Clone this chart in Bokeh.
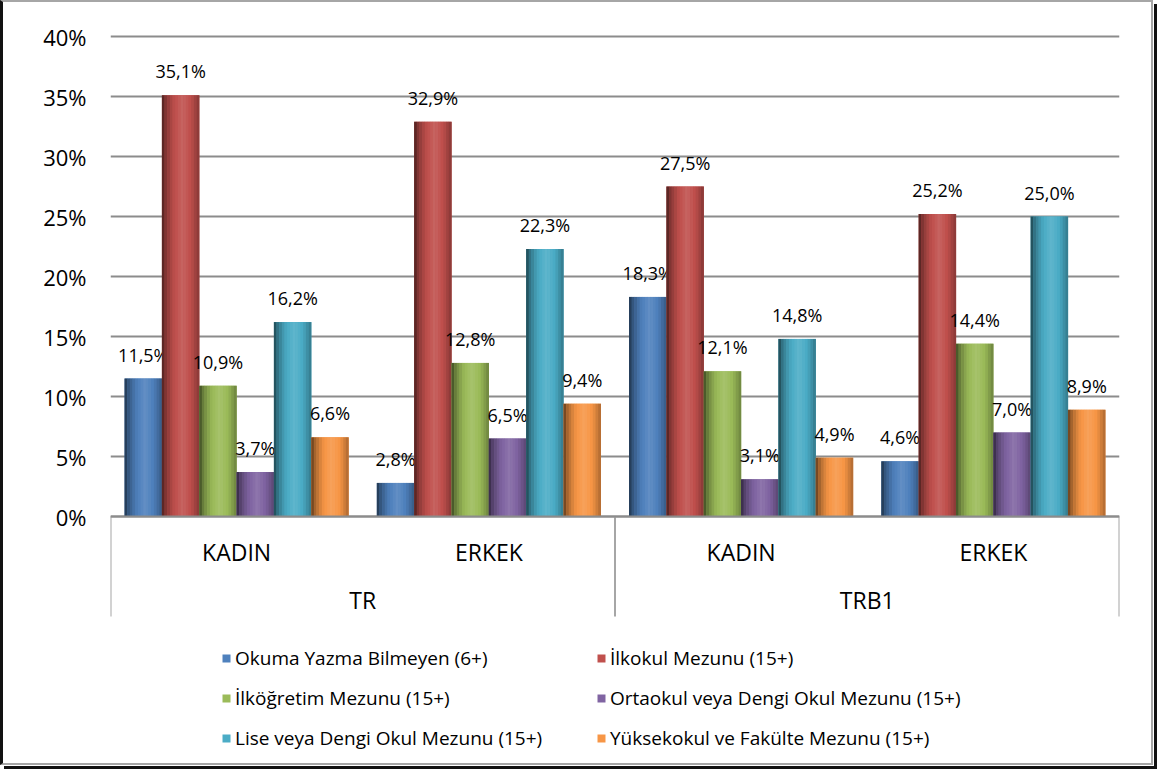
from bokeh.plotting import figure
from bokeh.models import (FactorRange, Range1d, ColumnDataSource, FixedTicker,
                          PrintfTickFormatter, Legend, LegendItem, Span)
from bokeh.transform import dodge
from bokeh.core.properties import value
from bokeh.embed import file_html
from bokeh.resources import INLINE

# ---------------- data ----------------
regions = ["TR", "TR", "TRB1", "TRB1"]
genders = ["KADIN", "ERKEK", "KADIN", "ERKEK"]
series_names = [
    "Okuma Yazma Bilmeyen (6+)",
    "İlkokul Mezunu (15+)",
    "İlköğretim Mezunu (15+)",
    "Ortaokul veya Dengi Okul Mezunu (15+)",
    "Lise veya Dengi Okul Mezunu (15+)",
    "Yüksekokul ve Fakülte Mezunu (15+)",
]
okuma = [11.5, 2.8, 18.3, 4.6]
ilkokul = [35.1, 32.9, 27.5, 25.2]
ilkogretim = [10.9, 12.8, 12.1, 14.4]
ortaokul = [3.7, 6.5, 3.1, 7.0]
lise = [16.2, 22.3, 14.8, 25.0]
yuksek = [6.6, 9.4, 4.9, 8.9]
y_ticks = [0, 5, 10, 15, 20, 25, 30, 35, 40]
colors = ["#4F81BD", "#C0504D", "#9BBB59", "#8064A2", "#4BACC6", "#F79646"]

series_values = [okuma, ilkokul, ilkogretim, ortaokul, lise, yuksek]

FONT = "Open Sans"
PX_PER_UNIT = 12.0

factors = list(zip(regions, genders))

# ---------------- figure ----------------
W, H = 1153, 765
frame_top, frame_bottom = 24, 757
zero_px = 514
y_end = (zero_px - frame_top) / PX_PER_UNIT
y_start = -(frame_bottom - zero_px) / PX_PER_UNIT

p = figure(width=W, height=H, output_backend="svg", toolbar_location=None,
           x_range=FactorRange(factors=factors, factor_padding=0, group_padding=0,
                               range_padding=0),
           y_range=Range1d(y_start, y_end),
           min_border_left=107, min_border_right=37,
           min_border_top=frame_top, min_border_bottom=H - frame_bottom,
           background_fill_color="white", border_fill_color="white",
           outline_line_color=None,
           styles={"border-left": "3px solid #111",
                   "border-top": "2px solid #A6A6A6",
                   "border-right": "2px solid #A6A6A6",
                   "border-bottom": "2px solid #A6A6A6",
                   "box-shadow": "1px 1px 0 0 #fff, 4px 4px 0 0 #111"})

p.xaxis.visible = False
p.xgrid.grid_line_color = None

ticker = FixedTicker(ticks=y_ticks)
p.yaxis.ticker = ticker
p.yaxis.formatter = PrintfTickFormatter(format="%d%%")
p.yaxis.axis_line_color = None
p.yaxis.major_tick_line_color = None
p.yaxis.minor_tick_line_color = None
p.yaxis.major_tick_out = 0
p.yaxis.major_label_standoff = 24
p.yaxis.major_label_text_font = FONT
p.yaxis.major_label_text_font_size = "22px"
p.yaxis.major_label_text_color = "#000000"
p.ygrid.ticker = ticker
p.ygrid.grid_line_color = "#8C8C8C"
p.ygrid.grid_line_width = 2

# ---------------- bars ----------------
src = ColumnDataSource(dict(cat=factors))
bar_w = 0.148
n_series = len(series_values)


def shade(hex_color, f):
    r, g, b = (int(hex_color[i:i + 2], 16) for i in (1, 3, 5))
    if f <= 1:
        r, g, b = r * f, g * f, b * f
    else:
        k = f - 1
        r, g, b = r + (255 - r) * k, g + (255 - g) * k, b + (255 - b) * k
    return "#%02x%02x%02x" % (int(min(255, r)), int(min(255, g)), int(min(255, b)))


profile = [(0.0, 0.40), (0.12, 0.70), (0.3, 0.95), (0.55, 1.12), (0.78, 0.98), (1.0, 0.7)]


def prof(t):
    for (t0, f0), (t1, f1) in zip(profile[:-1], profile[1:]):
        if t0 <= t <= t1:
            return f0 + (f1 - f0) * (t - t0) / (t1 - t0)
    return profile[-1][1]


n_strips = 14
legend_items = []
for i, (name, vals, col) in enumerate(zip(series_names, series_values, colors)):
    key = f"s{i}"
    src.data[key] = vals
    src.data[key + "_lbl"] = [f"{v:.1f}".replace(".", ",") + "%" for v in vals]
    off = (i - (n_series - 1) / 2) * bar_w
    base = p.vbar(x=dodge("cat", off, range=p.x_range), top=key, bottom=0,
                  width=bar_w, source=src, fill_color=col, line_color=None)
    sw = bar_w / n_strips
    for k in range(n_strips):
        t = (k + 0.5) / n_strips
        p.vbar(x=dodge("cat", off - bar_w / 2 + sw * (k + 0.5), range=p.x_range),
               top=key, bottom=0, width=sw * 1.08, source=src,
               fill_color=shade(col, prof(t)), line_color=None)
    p.text(x=dodge("cat", off, range=p.x_range), y=key, text=key + "_lbl", source=src,
           text_align="center", text_baseline="middle", y_offset=-24,
           text_font=value(FONT), text_font_size="18px", text_color="#000000")
    legend_items.append(LegendItem(label=name, renderers=[base]))

# ---------------- category axis (two levels) ----------------
p.add_layout(Span(location=0, dimension="width", line_color="#8C8C8C", line_width=2))

n_cat = len(factors)
group_names = []
group_bounds = []
for idx, r in enumerate(regions):
    if not group_names or group_names[-1] != r:
        group_names.append(r)
        group_bounds.append([idx, idx + 1])
    else:
        group_bounds[-1][1] = idx + 1
sep_x = [b[0] for b in group_bounds] + [n_cat]
sep_bottom = -100 / PX_PER_UNIT
p.segment(x0=sep_x, y0=[0] * len(sep_x), x1=sep_x, y1=[sep_bottom] * len(sep_x),
          line_color="#A6A6A6", line_width=2)

lvl1_y = -35 / PX_PER_UNIT
lvl2_y = -83 / PX_PER_UNIT
p.text(x=factors, y=[lvl1_y] * n_cat, text=genders, text_align="center",
       text_baseline="middle", text_font=value(FONT), text_font_size="23px",
       text_color="#000000")
p.text(x=[(b[0] + b[1]) / 2 for b in group_bounds], y=[lvl2_y] * len(group_names),
       text=group_names, text_align="center", text_baseline="middle",
       text_font=value(FONT), text_font_size="23px", text_color="#000000")

# ---------------- legend (two columns) ----------------
for col_idx, x_loc in ((0, 111), (1, 486)):
    leg = Legend(items=legend_items[col_idx::2], location=(x_loc, 8),
                 orientation="vertical", glyph_width=10, glyph_height=10,
                 label_standoff=4, spacing=14, padding=0, margin=0,
                 label_text_font=FONT, label_text_font_size="19px",
                 label_text_color="#000000", label_height=20,
                 border_line_color=None, background_fill_alpha=0)
    p.add_layout(leg)

open("out.html", "w").write(file_html(p, INLINE))
